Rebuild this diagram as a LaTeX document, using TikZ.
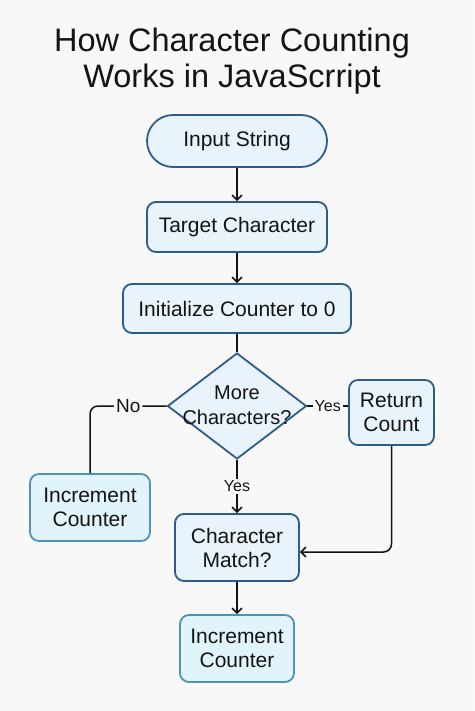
\documentclass[tikz,border=0pt]{standalone}
\usepackage{fontspec}
\setmainfont{Liberation Sans}
\usetikzlibrary{shapes.geometric,arrows.meta}
\definecolor{bg}{HTML}{F8F8F8}
\definecolor{dkb}{HTML}{2D5C8A}
\definecolor{lfill}{HTML}{E8F3FB}
\definecolor{incb}{HTML}{4D93B5}
\definecolor{incf}{HTML}{E2F4FB}
\definecolor{txt}{HTML}{141414}
\tikzset{
  box/.style={draw=dkb, fill=lfill, line width=1.8pt, rounded corners=9pt, inner sep=0pt,
    align=center, text=txt, font=\fontsize{21}{24}\selectfont},
  incbox/.style={box, draw=incb, fill=incf},
  conn/.style={line width=1.5pt, draw=txt},
  arr/.style={conn, -{Straight Barb[length=5pt,width=10pt,line width=1.5pt]}},
  lbl/.style={fill=bg, inner sep=2pt, text=txt, font=\fontsize{16}{18}\selectfont},
}
\begin{document}
\begin{tikzpicture}[x=1pt,y=-1pt]
\fill[bg] (0,0) rectangle (474,711);
\useasboundingbox (0,0) rectangle (474,711);
\node[text=txt, font=\fontsize{32.5}{36}\selectfont, align=center] (title) at (232,61)
  {How Character Counting\\Works in JavaScrript};
\node[box, rounded corners=26pt, minimum width=180pt, minimum height=52pt] (inp) at (237,141) {Input String};
\node[box, minimum width=180pt, minimum height=50pt] (tgt) at (237,227) {Target Character};
\node[box, minimum width=228pt, minimum height=49pt] (init) at (237,308.5) {Initialize Counter to 0};
\node[diamond, draw=dkb, fill=lfill, line width=1.8pt, inner sep=0pt, minimum width=139pt, minimum height=106pt] (dec) at (237,406) {};
\node[text=txt, align=center, font=\fontsize{20}{25}\selectfont] (dect) at (237,405) {More\\Characters?};
\node[box, minimum width=85pt, minimum height=65pt] (ret) at (391.5,412.5) {Return\\Count};
\node[incbox, minimum width=120pt, minimum height=67pt] (incL) at (90,507.5) {Increment\\Counter};
\node[box, minimum width=124pt, minimum height=67pt] (match) at (237,547.5) {Character\\Match?};
\node[incbox, minimum width=114pt, minimum height=67pt] (incB) at (237,648.5) {Increment\\Counter};
\draw[arr] (inp) -- (tgt);
\draw[arr] (tgt) -- (init);
\draw[conn] (init) -- (dec);
\draw[conn] (dec.east) -- node[lbl] {Yes} (dec.east -| ret.west);
\draw[conn, rounded corners=8pt] (dec.west) -| node[lbl, pos=0.25, font=\fontsize{19}{20}\selectfont] {No} (incL.north);
\draw[arr] (dec.south) -- node[lbl] {Yes} (match.north);
\draw[arr, rounded corners=8pt] (ret.south) |- ([yshift=-4.5pt]match.east);
\draw[arr] (match) -- (incB);
\end{tikzpicture}
\end{document}
